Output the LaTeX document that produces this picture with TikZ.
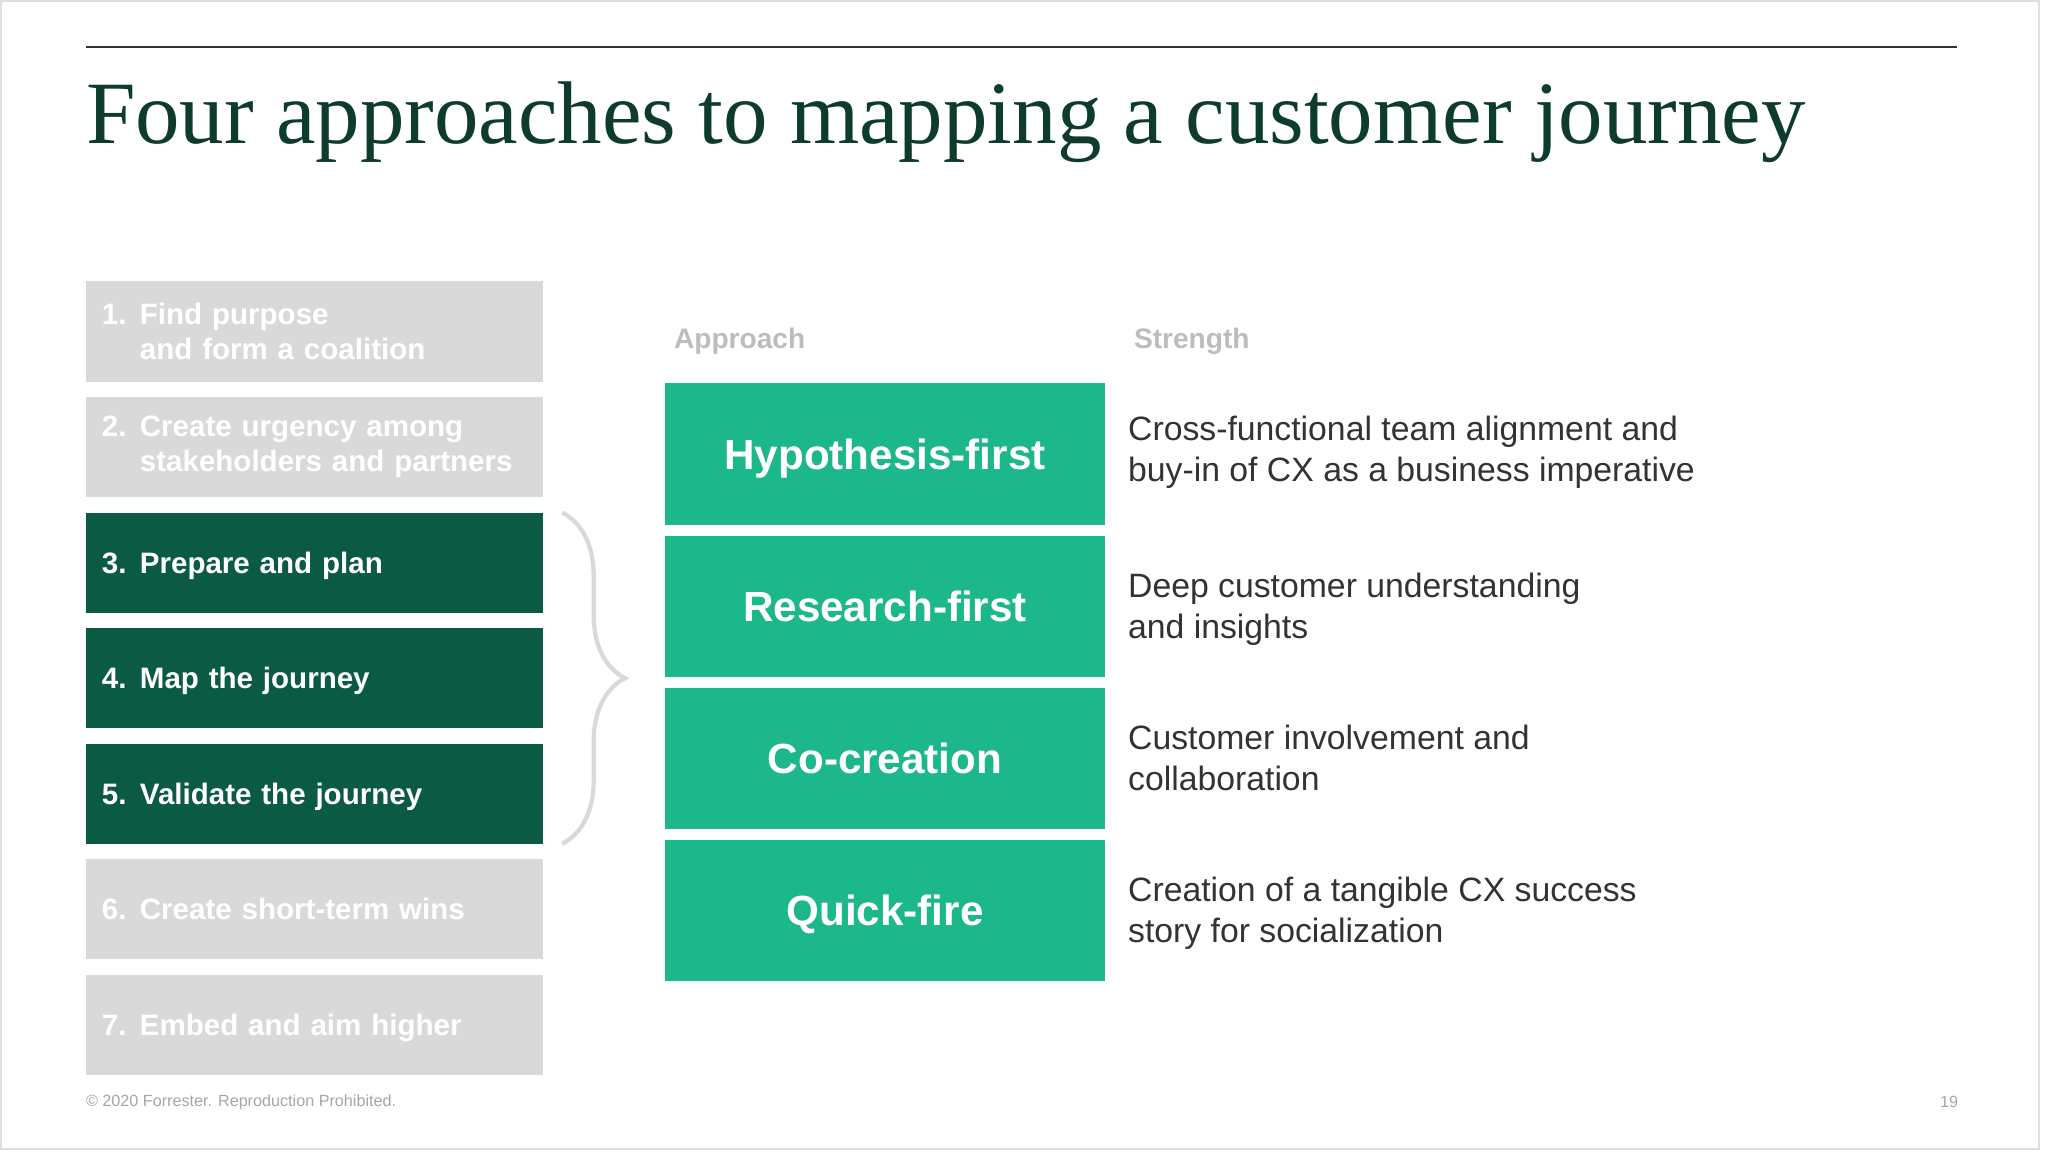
\documentclass[tikz,border=0pt]{standalone}
\usepackage{fontspec}
\setmainfont{Liberation Sans}
\newfontfamily\titlefont{Liberation Serif}
\usepackage{tikz}
\usetikzlibrary{positioning, decorations.pathreplacing}
\definecolor{fsdeep}{HTML}{0D3B2E}
\definecolor{fsdark}{HTML}{0B5A43}
\definecolor{fsteal}{HTML}{1CB78B}
\definecolor{fsgrey}{HTML}{D9D9D9}
\definecolor{fstext}{HTML}{333333}
\definecolor{fshead}{HTML}{BDBDBD}
\newcommand{\stepno}[1]{\makebox[0.38cm][l]{#1}}

\begin{document}
\begin{tikzpicture}[x=0.01cm, y=-0.01cm, every node/.style={outer sep=0pt},
      lay/.style={rectangle, fill=fsgrey, text=white, font=\fontsize{8.4}{10}\selectfont\bfseries, text width=4.25cm, inner xsep=0.16cm, inner ysep=0pt, minimum height=1cm, align=left},
      lay1/.style={lay, text height=6pt, text depth=0pt},
      cur/.style={lay1, fill=fsdark},
      apbox/.style={rectangle, fill=fsteal, text=white, font=\fontsize{12}{14}\selectfont\bfseries, minimum width=4.4cm, minimum height=1.41cm, inner sep=0pt, text height=8.6pt, text depth=0pt},
      strg/.style={text=fstext, font=\fontsize{9.6}{11.7}\selectfont, align=left, inner sep=0pt},
      hdr/.style={anchor=west, text=fshead, font=\fontsize{8}{10}\selectfont\bfseries, inner sep=0pt},
      brc/.style={decorate, decoration={brace, amplitude=0.63cm}, draw=fsgrey, line width=1.2pt}]

      \fill[white] (0,0) rectangle (2048,1152);
      \useasboundingbox (0,0) rectangle (2048,1152);
      \draw[gray!25, line width=0.6pt] (1,1) rectangle (2039,1149);

      % title
      \draw[fstext, line width=0.6pt] (86,47) -- (1957,47);
      \node[anchor=base west, inner sep=0pt, font=\titlefont\fontsize{25.3}{30}\selectfont, text=fsdeep] (ttl) at (86,144) {Four approaches to mapping a customer journey};

      % seven steps
      \node[lay] (s1) at (314.5,331.5) {\stepno{1.}Find purpose\\\stepno{}and form a coalition};
      \node[lay, below=0.155cm of s1] (s2) {\stepno{2.}Create urgency among\\\stepno{}stakeholders and partners};
      \node[cur, below=0.155cm of s2] (s3) {\stepno{3.}Prepare and plan};
      \node[cur, below=0.155cm of s3] (s4) {\stepno{4.}Map the journey};
      \node[cur, below=0.155cm of s4] (s5) {\stepno{5.}Validate the journey};
      \node[lay1, below=0.155cm of s5] (s6) {\stepno{6.}Create short-term wins};
      \node[lay1, below=0.155cm of s6] (s7) {\stepno{7.}Embed and aim higher};
      \draw[brc] ([xshift=0.19cm]s3.north east) -- ([xshift=0.19cm]s5.south east);

      % approaches
      \node[hdr] (hA) at (674,341) {Approach};
      \node[hdr] (hS) at (1134,341) {Strength};
      \node[apbox] (a1) at (885,454) {Hypothesis-first};
      \node[apbox, below=0.11cm of a1] (a2) {Research-first};
      \node[apbox, below=0.11cm of a2] (a3) {Co-creation};
      \node[apbox, below=0.11cm of a3] (a4) {Quick-fire};
      \node[strg, right=0.23cm of a1, yshift=0.02cm] (t1) {Cross-functional team alignment and\\buy-in of CX as a business imperative};
      \node[strg, right=0.23cm of a2, yshift=-0.03cm] (t2) {Deep customer understanding\\and insights};
      \node[strg, right=0.23cm of a3] (t3) {Customer involvement and\\collaboration};
      \node[strg, right=0.23cm of a4, yshift=-0.03cm] (t4) {Creation of a tangible CX success\\story for socialization};

      % footer
      \node[anchor=west, inner sep=0pt, font=\fontsize{4.6}{5}\selectfont, text=gray!70] (ftr) at (86,1102) {\textcopyright{} 2020 Forrester. Reproduction Prohibited.};
      \node[inner sep=0pt, font=\fontsize{4.6}{5}\selectfont, text=gray!70] (pg) at (1949,1102) {19};
    \end{tikzpicture}
\end{document}
